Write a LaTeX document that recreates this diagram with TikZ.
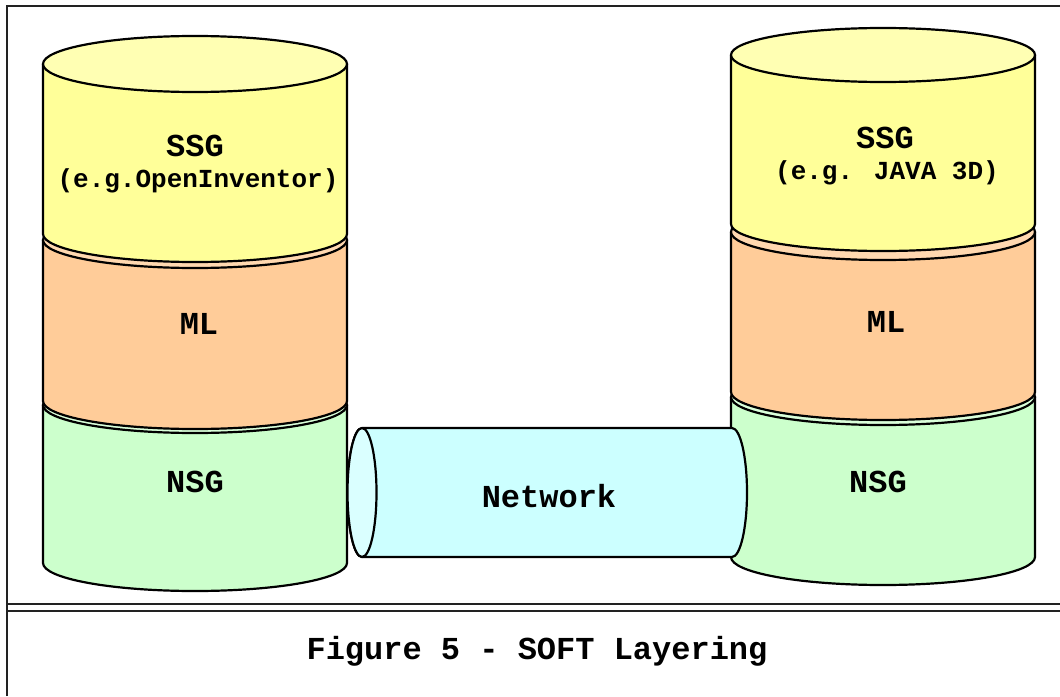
\documentclass[tikz,border=0pt]{standalone}
\usepackage{fontspec}
\setmainfont{Liberation Mono}
\definecolor{ybody}{HTML}{FFFF99}
\definecolor{ytop}{HTML}{FFFFB3}
\definecolor{obody}{HTML}{FFCC99}
\definecolor{otop}{HTML}{FFD8B0}
\definecolor{gbody}{HTML}{CCFFCC}
\definecolor{gtop}{HTML}{DAFFDA}
\definecolor{cbody}{HTML}{CCFFFF}
\definecolor{ctop}{HTML}{DAFFFF}
\definecolor{framec}{HTML}{222222}
\tikzset{
  shapeline/.style={draw=black, line width=2.2pt, line join=round},
  framel/.style={draw=framec, line width=1.8pt},
  lbl/.style={font=\fontsize{32}{36}\selectfont\bfseries, inner sep=0pt, anchor=center},
  sublbl/.style={font=\fontsize{26}{30}\selectfont\bfseries, inner sep=0pt, anchor=center}
}
% \cyllayer{cx}{ytop}{ybot}{rx}{ry}{body}{top}
\newcommand{\cyllayer}[7]{%
  \path[shapeline, fill=#6] (#1-#4,#2) -- (#1-#4,#3)
     arc[start angle=180, end angle=360, x radius=#4pt, y radius=#5pt]
     -- (#1+#4,#2) -- cycle;
  \path[shapeline, fill=#7] (#1,#2) ellipse [x radius=#4pt, y radius=#5pt];
}
\begin{document}
\begin{tikzpicture}[x=1pt,y=-1pt]
\useasboundingbox (0,0) rectangle (1060,696);
\fill[white] (0,0) rectangle (1060,696);
% frame
\draw[framel] (7,696) -- (7,6) -- (1060,6);
\draw[framel] (7,604) -- (1060,604);
\draw[framel] (7,611) -- (1060,611);
% left stack
\cyllayer{195}{405}{563}{152}{28}{gbody}{gtop}
\cyllayer{195}{240}{401}{152}{28}{obody}{otop}
\cyllayer{195}{64}{234}{152}{28}{ybody}{ytop}
% right stack
\cyllayer{883}{397}{557}{152}{28}{gbody}{gtop}
\cyllayer{883}{232}{392}{152}{28}{obody}{otop}
\cyllayer{883}{55}{224}{152}{27}{ybody}{ytop}
% network
\path[shapeline, fill=cbody] (362,428) -- (732,428)
   arc[start angle=90, end angle=-90, x radius=15pt, y radius=64.5pt]
   -- (362,557)
   arc[start angle=270, end angle=90, x radius=14.5pt, y radius=64.5pt]
   -- cycle;
\path[shapeline, fill=ctop] (362,492.5) ellipse [x radius=14.5pt, y radius=64.5pt];
% labels
\node[lbl] (ssgL) at (195,146) {SSG};
\node[sublbl] (egL) at (198,181) {(e.g.OpenInventor)};
\node[lbl] (mlL) at (199,324) {ML};
\node[lbl] (nsgL) at (195,482) {NSG};
\node[lbl] (ssgR) at (885,138) {SSG};
\node[sublbl] (egR) at (887,173) {(e.g. JAVA 3D)};
\node[lbl] (mlR) at (886,322) {ML};
\node[lbl] (nsgR) at (878,482) {NSG};
\node[lbl] (net) at (549,496) {Network};
\node[lbl] (cap) at (537,651) {Figure 5 - SOFT Layering};
\end{tikzpicture}
\end{document}
